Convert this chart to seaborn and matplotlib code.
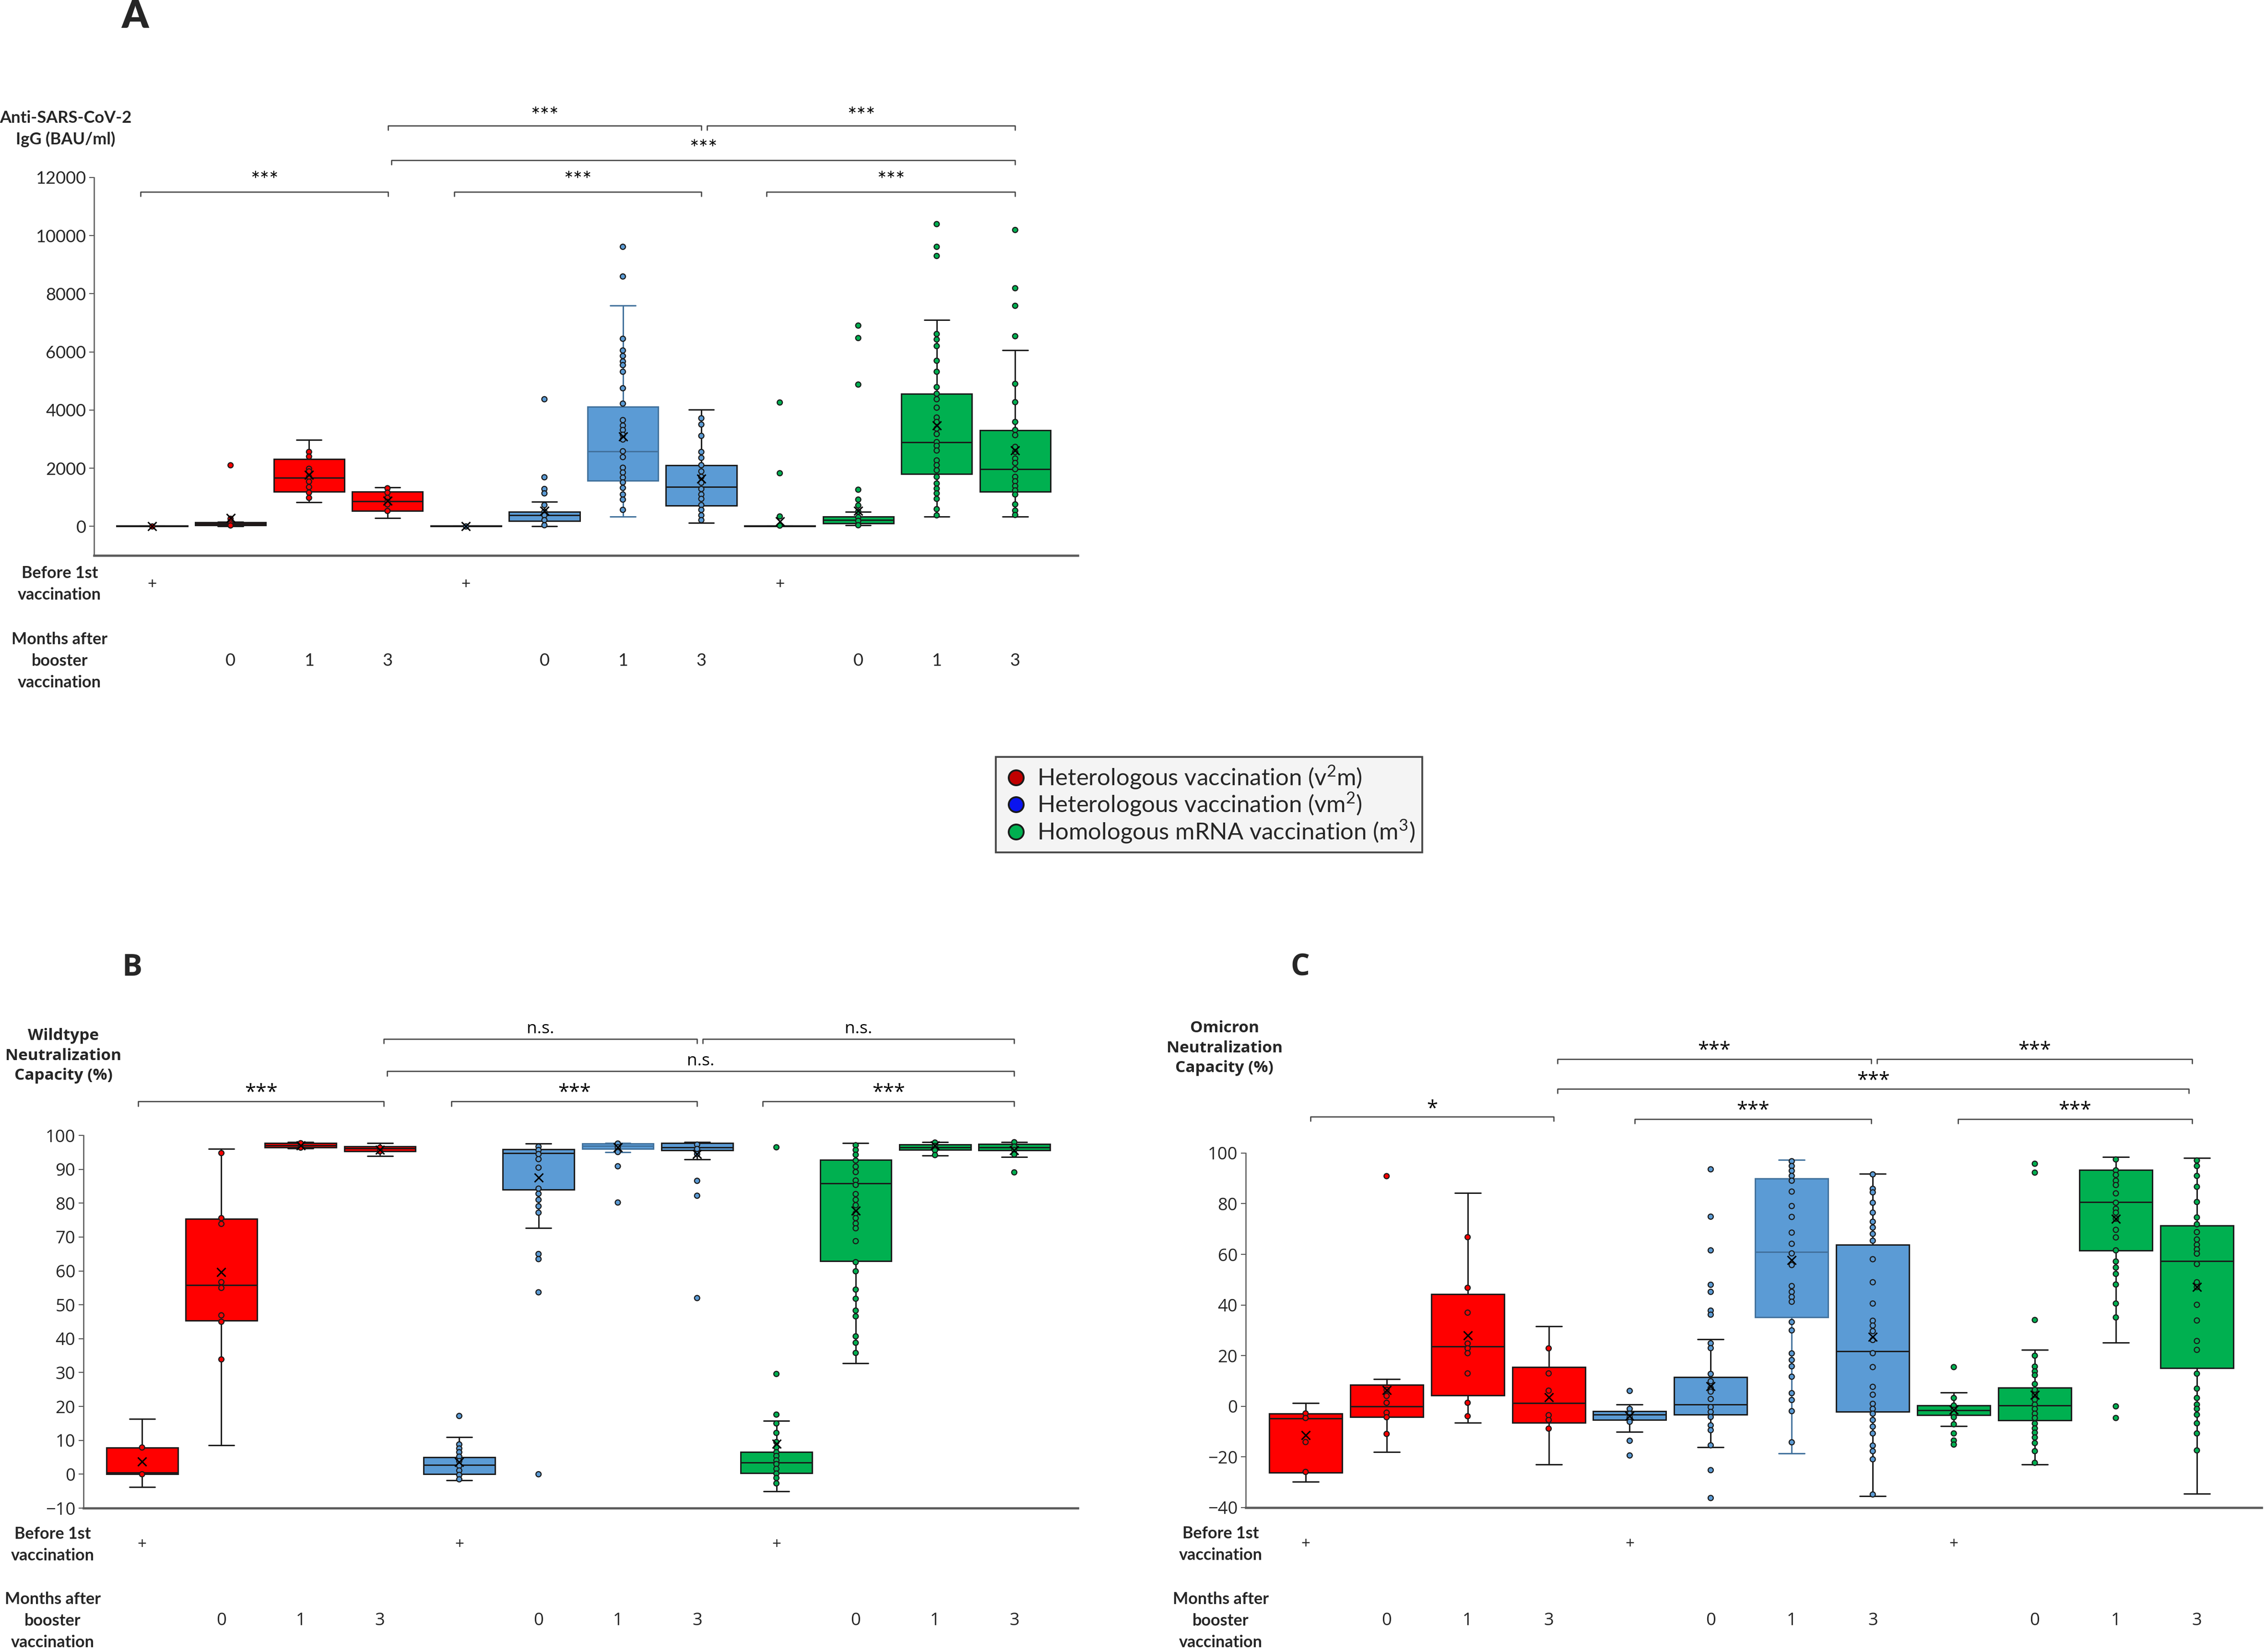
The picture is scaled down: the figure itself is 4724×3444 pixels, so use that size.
import matplotlib
matplotlib.use("Agg")
import matplotlib.pyplot as plt
from matplotlib.lines import Line2D
import seaborn as sns
import pandas as pd

sns.set_style("white")
plt.rcParams["font.family"] = ["Lato", "DejaVu Sans"]
plt.rcParams["mathtext.fontset"] = "custom"
plt.rcParams["mathtext.rm"] = "Lato"

# ---------------- categories ----------------
groups = ["v2m", "vm2", "m3"]
timepoints = ["pre", "0", "1", "3"]
conditions = [g + "_" + t for g in groups for t in timepoints]
row_labels = ["+", "0", "1", "3"] * 3

box_colors = {"v2m": "#ff0000", "vm2": "#5b9bd5", "m3": "#00b050"}
legend_colors = ["#c00000", "#0a14f0", "#00b050"]
legend_labels = [r"Heterologous vaccination (v$^{\mathrm{2}}$m)",
                 r"Heterologous vaccination (vm$^{\mathrm{2}}$)",
                 r"Homologous mRNA vaccination (m$^{\mathrm{3}}$)"]

# ---------------- panel A: IgG (BAU/ml) ----------------
a_q1 = [0, 40, 1184, 529, 0, 189, 1575, 718, 0, 100, 1802, 1197]
a_med = [5, 90, 1676, 857, 5, 378, 2583, 1361, 5, 214, 2885, 1966]
a_q3 = [15, 130, 2318, 1184, 15, 504, 4108, 2092, 15, 340, 4561, 3301]
a_lo = [0, 10, 832, 277, 0, 0, 340, 126, 0, 38, 328, 340]
a_hi = [20, 160, 2974, 1336, 20, 844, 7585, 4007, 20, 504, 7094, 6061]
a_mean = [10, 280, 1764, 882, 10, 529, 3087, 1638, 164, 529, 3465, 2608]
a_points = [
    [10],
    [2100, 260, 100, 30],
    [2560, 2400, 1980, 1890, 1700, 1540, 1350, 1160, 980],
    [1310, 1160, 980, 844, 756, 529],
    [10],
    [4372, 1688, 1285, 1134, 731, 504, 378, 214, 38],
    [9614, 8593, 6451, 6048, 5859, 5670, 5544, 5317, 4750, 4221, 3654, 3465,
     3314, 3150, 2986, 2583, 2381, 2016, 1852, 1676, 1512, 1323, 1096, 920, 567],
    [3717, 3503, 3112, 2558, 2356, 2104, 1890, 1701, 1499, 1285, 1096, 945,
     731, 567, 378, 214],
    [4259, 1827, 340, 25],
    [6905, 6476, 4876, 1260, 920, 718, 504, 315, 189, 38],
    [10395, 9614, 9299, 6615, 6426, 6199, 5695, 5317, 4788, 4561, 4372, 4082,
     3742, 3591, 3364, 3175, 2898, 2772, 2608, 2268, 2104, 1928, 1701, 1474,
     1298, 1134, 945, 592, 378],
    [10193, 8190, 7585, 6539, 4901, 4271, 3591, 3314, 3137, 2734, 2558, 2331,
     2180, 1966, 1701, 1550, 1386, 1235, 1096, 756, 542, 391],
]

# ---------------- panel B: wildtype neutralization (%) ----------------
b_q1 = [0, 45.4, 96.4, 95.3, 0, 84.0, 96.0, 95.6, 0.3, 62.9, 95.7, 95.6]
b_med = [0.5, 55.9, 97.1, 96.2, 2.8, 94.7, 96.9, 96.4, 3.5, 85.9, 96.5, 96.5]
b_q3 = [7.9, 75.4, 97.7, 96.7, 5.0, 95.9, 97.6, 97.7, 6.6, 92.8, 97.3, 97.5]
b_lo = [-3.8, 8.5, 96.2, 93.9, -1.8, 72.7, 95.1, 93.0, -5.1, 32.8, 94.0, 93.7]
b_hi = [16.4, 96.0, 98.0, 97.7, 10.9, 97.6, 97.8, 98.0, 15.8, 97.7, 98.0, 98.0]
b_mean = [3.8, 59.7, 97.0, 95.7, 3.6, 87.5, 96.4, 94.5, 9.0, 77.8, 97.0, 95.6]
b_points = [
    [7.9, 0],
    [94.8, 75.6, 73.9, 56.7, 55.0, 46.9, 45.0, 33.9],
    [97.7, 96.4],
    [96.4, 95.3],
    [17.2, 8.8, 7.6, 6.5, 5.2, 3.9, 2.5, 1.1, -0.2, -1.5],
    [96.7, 95.7, 94.5, 93.0, 90.5, 84.3, 82.8, 81.0, 79.1, 77.2, 65.0, 63.5,
     53.7, 0],
    [97.6, 96.5, 95.1, 90.9, 80.2],
    [97.3, 96.0, 94.5, 86.6, 82.2, 52.0],
    [96.5, 29.6, 17.6, 15.0, 12.2, 9.5, 7.9, 6.5, 5.4, 4.1, 3.0, 1.6, 0.2,
     -1.1, -2.7],
    [97.1, 95.7, 94.3, 92.6, 90.8, 89.2, 86.7, 85.4, 82.7, 81.0, 79.4, 77.0,
     75.6, 74.0, 72.6, 68.8, 62.6, 59.9, 54.5, 51.8, 48.3, 46.6, 40.7, 38.8,
     35.8],
    [97.9, 96.9, 95.6, 94.2],
    [98.0, 96.7, 95.7, 94.4, 89.1],
]

# ---------------- panel C: omicron neutralization (%) ----------------
c_q1 = [-26.1, -4.2, 4.3, -6.4, -5.4, -3.2, 35.2, -2.2, -3.5, -5.5, 61.6, 15.2]
c_med = [-4.8, 0, 23.6, 1.3, -3.3, 0.7, 61.0, 21.7, -1.6, 0.4, 80.7, 57.4]
c_q3 = [-2.9, 8.4, 44.2, 15.5, -2.0, 11.6, 90.0, 63.8, 0.4, 7.4, 93.3, 71.4]
c_lo = [-29.7, -18.0, -6.4, -22.9, -10.1, -16.2, -18.6, -35.5, -7.8, -23.0, 25.1, -34.5]
c_hi = [1.2, 10.7, 84.3, 31.6, 0.7, 26.5, 97.4, 91.9, 5.5, 22.3, 98.4, 98.0]
c_mean = [-11.4, 6.5, 28.0, 3.6, -3.9, 8.0, 57.7, 27.5, -1.3, 4.5, 74.1, 47.1]
c_points = [
    [-2.8, -4.6, -14.1, -25.9],
    [90.9, 6.5, 4.1, 1.4, -2.5, -4.3, -10.9],
    [66.8, 46.8, 37.0, 24.8, 22.9, 21.0, 13.0, 1.4, -3.9],
    [22.9, 13.0, 6.2, -3.5, -5.4, -8.8],
    [6.1, -1.0, -2.9, -4.3, -6.1, -13.6, -19.4],
    [93.6, 74.9, 61.6, 48.0, 45.2, 37.8, 36.2, 24.9, 23.0, 12.8, 9.9, 7.2, 5.8,
     2.9, -0.3, -2.2, -4.2, -7.5, -9.4, -15.4, -25.2, -36.2],
    [96.8, 94.9, 93.0, 91.0, 89.1, 84.8, 79.1, 74.8, 68.6, 64.2, 60.4, 55.8,
     47.5, 45.2, 43.2, 41.3, 33.3, 30.0, 20.9, 18.3, 15.8, 11.7, 5.2, 2.5,
     -1.9, -14.2],
    [91.6, 85.9, 84.5, 80.4, 76.5, 72.9, 70.6, 68.1, 65.4, 58.1, 49.0, 40.6,
     33.8, 31.9, 29.7, 26.2, 21.0, 15.5, 7.7, 4.6, 1.0, -1.0, -2.9, -5.4, -8.0,
     -10.7, -15.5, -17.7, -20.9, -34.8],
    [15.5, 3.3, 0.3, -1.4, -2.9, -4.3, -7.1, -10.7, -13.5, -15.1],
    [95.8, 92.3, 34.1, 20.0, 15.7, 13.8, 12.3, 8.8, 6.5, 4.5, 2.6, 0.7, -1.0,
     -2.9, -4.6, -6.8, -8.7, -10.4, -12.3, -14.5, -17.7, -22.3],
    [97.5, 93.2, 91.4, 89.1, 87.4, 84.1, 80.4, 78.0, 76.5, 74.1, 69.7, 66.7,
     61.6, 57.2, 54.8, 52.3, 48.1, 40.6, 35.1, 0, -4.6],
    [97.1, 94.9, 91.0, 86.7, 80.7, 74.6, 71.9, 68.8, 65.9, 63.8, 62.0, 60.3,
     56.2, 49.0, 47.1, 40.1, 33.9, 25.8, 22.3, 12.9, 7.0, 3.3, 0.7, -1.0, -3.3,
     -6.7, -10.7, -17.4],
]

# significance brackets: (x from, x to, label)
a_brackets = [(-0.15, 3.01, "***"), (3.85, 7.0, "***"), (7.83, 11.0, "***"),
              (3.05, 11.0, "***"), (3.01, 7.0, "***"), (7.07, 11.0, "***")]
b_brackets = [(-0.05, 3.05, "***"), (3.9, 7.0, "***"), (7.83, 11.0, "***"),
              (3.09, 11.0, "n.s."), (3.05, 7.0, "n.s."), (7.07, 11.0, "n.s.")]
c_brackets = [(0.06, 3.06, "*"), (4.06, 6.98, "***"), (8.05, 10.94, "***"),
              (3.11, 10.9, "***"), (3.11, 6.98, "***"), (7.05, 10.94, "***")]


def edge_of(cond):
    return "#41719c" if cond == "vm2_1" else "#1a1a1a"


def draw_panel(ax, q1, med, q3, lo, hi, mean, points, font):
    df = pd.DataFrame(
        [(c, c.split("_")[0], v) for c, pts in zip(conditions, points) for v in pts],
        columns=["condition", "group", "value"])
    sns.stripplot(data=df, x="condition", y="value", hue="group", order=conditions,
                  palette=box_colors, jitter=False, size=2.6, linewidth=0.55,
                  edgecolor="#1a1a1a", legend=False, ax=ax, zorder=4)

    stats = [dict(q1=q1[i], med=med[i], q3=q3[i], whislo=lo[i], whishi=hi[i],
                  mean=mean[i], fliers=[]) for i in range(len(conditions))]
    bp = ax.bxp(stats, positions=list(range(len(conditions))), widths=0.9,
                patch_artist=True, showmeans=True, showfliers=False,
                capwidths=0.32, manage_ticks=False,
                meanprops=dict(marker="x", markeredgecolor="black",
                               markersize=4.5, markeredgewidth=0.7))
    for i, cond in enumerate(conditions):
        col = box_colors[cond.split("_")[0]]
        ec = edge_of(cond)
        bp["boxes"][i].set(facecolor=col, edgecolor=ec, linewidth=0.7, zorder=2)
        bp["medians"][i].set(color=ec, linewidth=0.7, zorder=2.5)
        for ln in bp["whiskers"][2 * i:2 * i + 2] + bp["caps"][2 * i:2 * i + 2]:
            ln.set(color=ec, linewidth=0.7, zorder=1.5)
        bp["means"][i].set_zorder(5)

    ax.set_xlim(-0.74, 11.8)
    ax.set_xticks([])
    ax.set_xlabel("")
    ax.set_ylabel("")
    for s in ["top", "right"]:
        ax.spines[s].set_visible(False)
    ax.spines["left"].set(color="#595959", linewidth=0.6)
    ax.spines["bottom"].set(color="#595959", linewidth=1.1)
    ax.tick_params(axis="y", left=True, length=2.5, width=0.5, color="#595959",
                   pad=1.5, labelsize=8.7)
    for lab in ax.get_yticklabels():
        lab.set_fontfamily(font)


def brackets(ax, spec, levels, font, sizes):
    tr = ax.get_xaxis_transform()
    for (x0, x1, label), (y, ty) in zip(spec, levels):
        ax.plot([x0, x0, x1, x1], [y - 0.012, y, y, y - 0.012], transform=tr,
                clip_on=False, color="#404040", lw=0.6)
        size = sizes[0] if "*" in label else sizes[1]
        ax.text((x0 + x1) / 2, ty, label, transform=tr, ha="center", va="center",
                fontsize=size, family=font, color="black")


def bottom_rows(ax, plus_y, digit_y, head_x, font, head_font):
    tr = ax.get_xaxis_transform()
    for i, lab in enumerate(row_labels):
        y = plus_y if lab == "+" else digit_y
        ax.text(i, y, lab, transform=tr, ha="center", va="center",
                fontsize=8 if lab == "+" else 8.7, family=font)
    ax.text(head_x, plus_y, "Before 1st\nvaccination", transform=ax.transAxes,
            ha="center", va="center", fontsize=8.2, fontweight="bold",
            family=head_font, linespacing=1.5)
    ax.text(head_x, digit_y, "Months after\nbooster\nvaccination",
            transform=ax.transAxes, ha="center", va="center", fontsize=8.2,
            fontweight="bold", family=head_font, linespacing=1.5)


fig = plt.figure(figsize=(4724 / 300, 3444 / 300), dpi=300)
ax_a = fig.add_axes([0.0415, 0.6638, 0.4342, 0.2288])
ax_b = fig.add_axes([0.0368, 0.0871, 0.4388, 0.2256])
ax_c = fig.add_axes([0.5497, 0.0874, 0.4484, 0.2146])

# ---- A ----
draw_panel(ax_a, a_q1, a_med, a_q3, a_lo, a_hi, a_mean, a_points, "Lato")
ax_a.set_ylim(-1000, 12000)
ax_a.set_yticks(range(0, 12001, 2000))
brackets(ax_a, a_brackets,
         [(0.962, 0.990), (0.962, 0.990), (0.962, 0.990),
          (1.046, 1.073), (1.137, 1.160), (1.137, 1.160)], "Lato", (11, 9))
bottom_rows(ax_a, -0.076, -0.279, -0.035, "Lato", "Lato")
ax_a.text(-0.029, 1.129, "Anti-SARS-CoV-2\nIgG (BAU/ml)", transform=ax_a.transAxes,
          ha="center", va="center", fontsize=8.3, fontweight="bold", linespacing=1.45)

# ---- B ----
draw_panel(ax_b, b_q1, b_med, b_q3, b_lo, b_hi, b_mean, b_points, "Open Sans")
ax_b.set_ylim(-10, 100)
ax_b.set_yticks(range(-10, 101, 10))
brackets(ax_b, b_brackets,
         [(1.091, 1.114), (1.091, 1.114), (1.091, 1.114),
          (1.172, 1.199), (1.259, 1.286), (1.259, 1.286)], "Open Sans", (10, 8.5))
bottom_rows(ax_b, -0.098, -0.302, -0.031, "Open Sans", "Lato")
ax_b.text(-0.020, 1.2136, "Wildtype\nNeutralization\nCapacity (%)",
          transform=ax_b.transAxes, ha="center", va="center", fontsize=8,
          fontweight="bold", family="Open Sans", linespacing=1.35)

# ---- C ----
draw_panel(ax_c, c_q1, c_med, c_q3, c_lo, c_hi, c_mean, c_points, "Open Sans")
ax_c.set_ylim(-40, 100)
ax_c.set_yticks(range(-40, 101, 20))
brackets(ax_c, c_brackets,
         [(1.103, 1.124), (1.096, 1.120), (1.096, 1.120),
          (1.181, 1.204), (1.265, 1.289), (1.265, 1.289)], "Open Sans", (10, 8.5))
bottom_rows(ax_c, -0.104, -0.319, -0.0245, "Open Sans", "Lato")
ax_c.text(-0.0208, 1.296, "Omicron\nNeutralization\nCapacity (%)",
          transform=ax_c.transAxes, ha="center", va="center", fontsize=8,
          fontweight="bold", family="Open Sans", linespacing=1.35)

# panel letters
fig.text(0.0595, 0.990, "A", ha="center", va="center", fontsize=19, fontweight="heavy")
fig.text(0.0582, 0.4143, "B", ha="center", va="center", fontsize=15,
         fontweight="bold", family="Open Sans")
fig.text(0.5737, 0.4143, "C", ha="center", va="center", fontsize=15,
         fontweight="bold", family="Open Sans")

# legend
handles = [Line2D([], [], linestyle="none", marker="o", markersize=7.5,
                  markerfacecolor=c, markeredgecolor="#1a1a1a", markeredgewidth=0.9)
           for c in legend_colors]
leg = fig.legend(handles, legend_labels, loc="center", bbox_to_anchor=(0.5335, 0.513),
                 frameon=True, fancybox=False, fontsize=11.8, handletextpad=0.35,
                 labelspacing=0.0, borderpad=0.3, handlelength=1.1,
                 borderaxespad=0)
leg.get_frame().set(facecolor="#f2f2f2", edgecolor="#1a1a1a", linewidth=0.9)

fig.savefig("out.png", dpi=300, facecolor="white")
